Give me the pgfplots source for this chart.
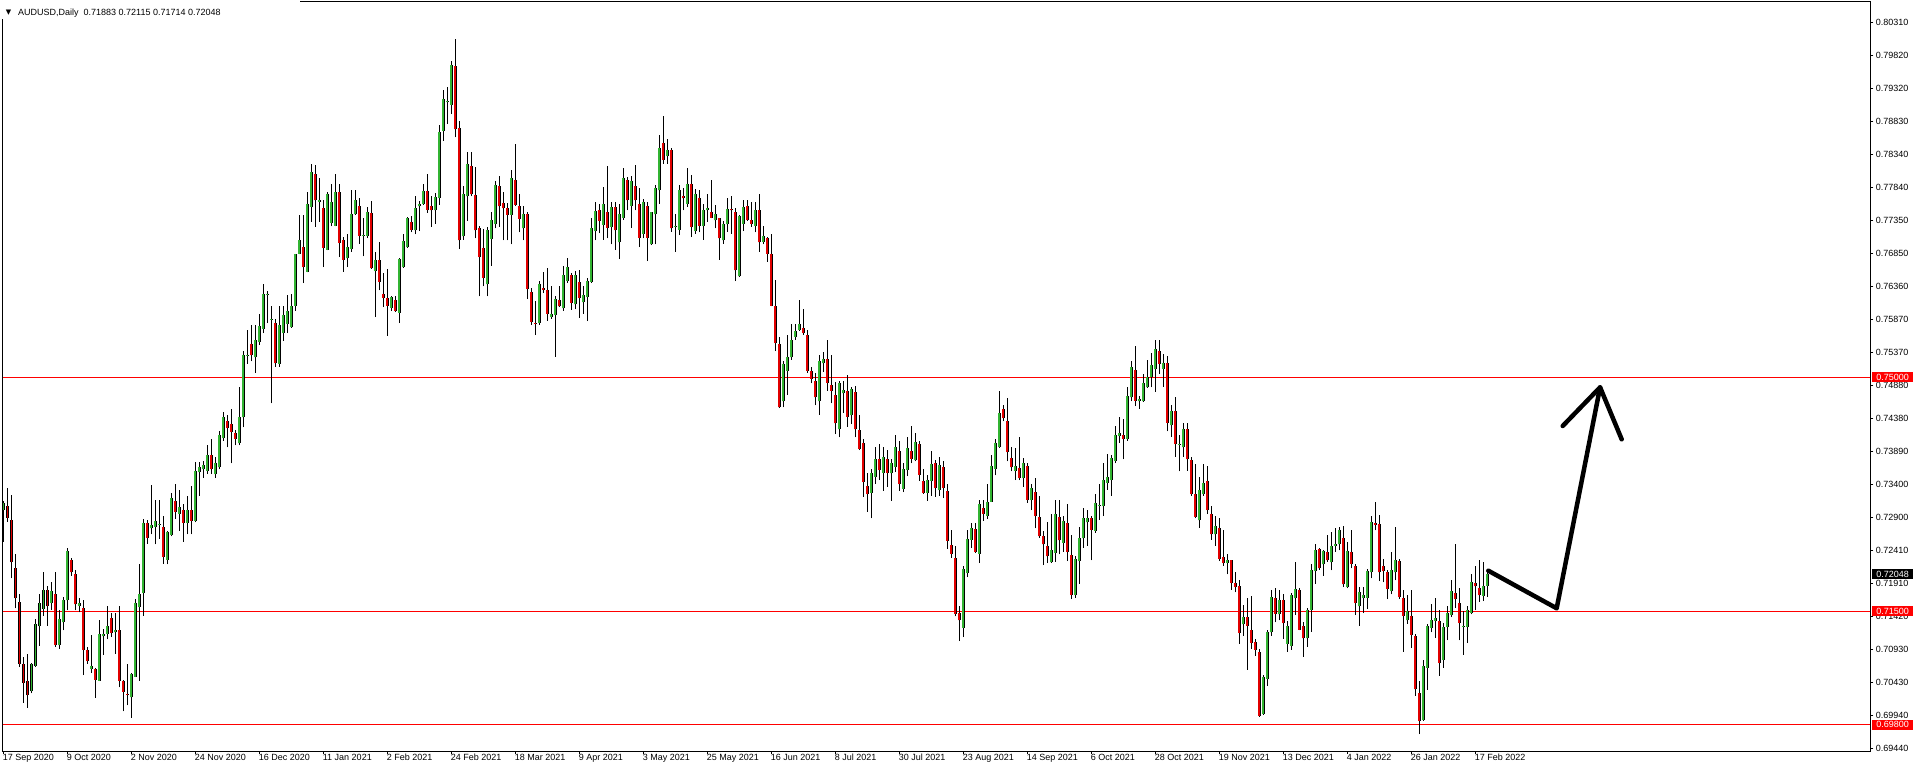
\documentclass[border=0pt]{standalone}
\usepackage{fontspec}
\setmainfont{Liberation Sans}
\newfontfamily\dejavu{DejaVu Sans}
\usepackage{pgfplots}
\usepackage{pgfplotstable}
\pgfplotsset{compat=1.18}

\definecolor{bull}{RGB}{50,180,50}
\definecolor{bear}{RGB}{225,0,0}
\definecolor{mtred}{RGB}{255,0,0}

% AUDUSD daily, bar index: 0 = 17 Sep 2020
\pgfplotstableread{
x o h l c
0 0.7302 0.7315 0.7254 0.7312
7 0.7030 0.7073 0.7027 0.7071
8 0.7068 0.7138 0.7067 0.7131
9 0.7127 0.7175 0.7098 0.7162
10 0.7153 0.7208 0.7143 0.7182
12 0.7162 0.7193 0.7152 0.7180
14 0.7099 0.7151 0.7094 0.7138
15 0.7133 0.7171 0.7121 0.7166
16 0.7166 0.7244 0.7151 0.7240
19 0.7158 0.7169 0.7148 0.7162
22 0.7063 0.7114 0.7057 0.7068
24 0.7046 0.7136 0.7045 0.7116
25 0.7112 0.7123 0.7085 0.7116
26 0.7116 0.7158 0.7108 0.7128
28 0.7118 0.7147 0.7086 0.7122
32 0.7021 0.7057 0.6990 0.7056
33 0.7052 0.7168 0.7051 0.7162
34 0.7156 0.7221 0.7046 0.7176
35 0.7177 0.7288 0.7143 0.7282
37 0.7274 0.7339 0.7265 0.7279
38 0.7276 0.7317 0.7250 0.7285
39 0.7279 0.7317 0.7258 0.7280
41 0.7227 0.7270 0.7220 0.7268
42 0.7264 0.7327 0.7262 0.7320
44 0.7296 0.7331 0.7270 0.7306
46 0.7282 0.7323 0.7265 0.7302
48 0.7285 0.7373 0.7283 0.7360
49 0.7358 0.7373 0.7323 0.7365
50 0.7362 0.7375 0.7350 0.7368
51 0.7360 0.7399 0.7355 0.7383
53 0.7355 0.7380 0.7350 0.7372
54 0.7365 0.7419 0.7362 0.7414
55 0.7409 0.7448 0.7405 0.7440
59 0.7401 0.7485 0.7398 0.7440
60 0.7440 0.7540 0.7425 0.7534
61 0.7533 0.7571 0.7520 0.7534
63 0.7530 0.7579 0.7507 0.7556
64 0.7553 0.7595 0.7548 0.7577
65 0.7573 0.7639 0.7566 0.7625
66 0.7623 0.7629 0.7581 0.7624
67 0.7587 0.7606 0.7461 0.7588
69 0.7520 0.7607 0.7516 0.7578
70 0.7566 0.7606 0.7555 0.7593
71 0.7580 0.7623 0.7566 0.7600
72 0.7575 0.7624 0.7574 0.7606
73 0.7607 0.7685 0.7600 0.7685
74 0.7685 0.7743 0.7684 0.7705
76 0.7658 0.7777 0.7657 0.7760
77 0.7755 0.7820 0.7733 0.7807
79 0.7763 0.7798 0.7733 0.7766
81 0.7691 0.7778 0.7690 0.7774
82 0.7731 0.7790 0.7726 0.7763
83 0.7727 0.7805 0.7726 0.7778
86 0.7678 0.7715 0.7665 0.7695
87 0.7692 0.7780 0.7688 0.7745
88 0.7744 0.7781 0.7743 0.7765
90 0.7712 0.7739 0.7681 0.7713
91 0.7712 0.7755 0.7708 0.7747
93 0.7659 0.7688 0.7590 0.7676
97 0.7604 0.7621 0.7600 0.7620
99 0.7597 0.7679 0.7581 0.7677
100 0.7665 0.7714 0.7664 0.7704
101 0.7695 0.7740 0.7694 0.7738
103 0.7720 0.7772 0.7714 0.7754
104 0.7756 0.7764 0.7719 0.7760
105 0.7760 0.7789 0.7758 0.7779
108 0.7750 0.7776 0.7730 0.7770
109 0.7769 0.7877 0.7758 0.7867
110 0.7869 0.7930 0.7854 0.7916
111 0.7912 0.7935 0.7879 0.7913
112 0.7908 0.7973 0.7894 0.7967
115 0.7711 0.7786 0.7706 0.7774
116 0.7771 0.7837 0.7734 0.7819
121 0.7639 0.7725 0.7621 0.7721
122 0.7707 0.7747 0.7667 0.7736
123 0.7730 0.7794 0.7723 0.7788
127 0.7743 0.7810 0.7699 0.7798
130 0.7723 0.7756 0.7705 0.7745
134 0.7581 0.7644 0.7579 0.7640
137 0.7591 0.7637 0.7588 0.7595
138 0.7593 0.7621 0.7531 0.7617
140 0.7603 0.7667 0.7600 0.7653
141 0.7644 0.7678 0.7641 0.7665
143 0.7609 0.7659 0.7602 0.7653
145 0.7612 0.7636 0.7595 0.7623
146 0.7620 0.7649 0.7584 0.7644
147 0.7643 0.7739 0.7641 0.7724
148 0.7719 0.7762 0.7705 0.7749
150 0.7728 0.7785 0.7706 0.7759
152 0.7725 0.7762 0.7699 0.7755
154 0.7702 0.7760 0.7677 0.7745
155 0.7739 0.7814 0.7736 0.7798
157 0.7757 0.7801 0.7724 0.7794
160 0.7715 0.7767 0.7708 0.7762
162 0.7699 0.7748 0.7698 0.7747
163 0.7744 0.7788 0.7699 0.7784
164 0.7780 0.7863 0.7760 0.7843
166 0.7831 0.7856 0.7820 0.7840
168 0.7725 0.7745 0.7688 0.7726
169 0.7721 0.7788 0.7713 0.7781
171 0.7760 0.7813 0.7755 0.7789
173 0.7719 0.7782 0.7715 0.7774
175 0.7727 0.7759 0.7706 0.7751
176 0.7750 0.7774 0.7733 0.7753
178 0.7735 0.7758 0.7723 0.7744
180 0.7705 0.7734 0.7700 0.7729
181 0.7729 0.7769 0.7718 0.7752
184 0.7651 0.7743 0.7650 0.7741
185 0.7730 0.7765 0.7719 0.7755
188 0.7727 0.7763 0.7717 0.7751
190 0.7703 0.7726 0.7699 0.7711
195 0.7464 0.7524 0.7455 0.7520
196 0.7510 0.7564 0.7474 0.7530
197 0.7530 0.7580 0.7526 0.7556
198 0.7561 0.7580 0.7556 0.7570
199 0.7571 0.7616 0.7570 0.7580
204 0.7464 0.7534 0.7444 0.7525
205 0.7521 0.7538 0.7508 0.7528
209 0.7422 0.7494 0.7410 0.7491
210 0.7476 0.7495 0.7447 0.7481
212 0.7443 0.7485 0.7430 0.7482
217 0.7327 0.7362 0.7289 0.7356
218 0.7351 0.7396 0.7341 0.7378
220 0.7357 0.7395 0.7330 0.7380
222 0.7356 0.7378 0.7315 0.7372
223 0.7366 0.7413 0.7358 0.7395
225 0.7333 0.7371 0.7328 0.7363
226 0.7361 0.7410 0.7352 0.7394
228 0.7376 0.7416 0.7374 0.7403
231 0.7327 0.7354 0.7315 0.7347
232 0.7345 0.7389 0.7323 0.7370
234 0.7331 0.7381 0.7323 0.7368
240 0.7125 0.7218 0.7111 0.7213
241 0.7207 0.7271 0.7201 0.7258
242 0.7257 0.7282 0.7245 0.7274
244 0.7236 0.7317 0.7222 0.7310
246 0.7293 0.7341 0.7288 0.7313
247 0.7314 0.7384 0.7313 0.7367
248 0.7363 0.7408 0.7353 0.7401
249 0.7396 0.7479 0.7394 0.7446
253 0.7360 0.7394 0.7346 0.7367
255 0.7349 0.7379 0.7336 0.7371
257 0.7316 0.7340 0.7301 0.7335
262 0.7223 0.7296 0.7222 0.7241
263 0.7237 0.7317 0.7224 0.7295
265 0.7252 0.7292 0.7239 0.7285
268 0.7174 0.7232 0.7170 0.7228
269 0.7225 0.7276 0.7191 0.7260
270 0.7259 0.7305 0.7245 0.7289
271 0.7283 0.7302 0.7248 0.7290
273 0.7270 0.7325 0.7267 0.7312
274 0.7308 0.7340 0.7287 0.7309
275 0.7307 0.7372 0.7292 0.7347
276 0.7342 0.7385 0.7332 0.7351
277 0.7346 0.7383 0.7323 0.7379
278 0.7375 0.7427 0.7371 0.7414
279 0.7412 0.7441 0.7402 0.7416
281 0.7408 0.7485 0.7405 0.7472
282 0.7470 0.7524 0.7464 0.7516
284 0.7464 0.7472 0.7453 0.7468
285 0.7464 0.7505 0.7463 0.7491
286 0.7485 0.7526 0.7484 0.7500
287 0.7500 0.7537 0.7485 0.7518
288 0.7512 0.7556 0.7478 0.7543
290 0.7513 0.7535 0.7486 0.7521
292 0.7428 0.7459 0.7411 0.7450
294 0.7399 0.7414 0.7359 0.7400
295 0.7395 0.7431 0.7381 0.7422
299 0.7286 0.7351 0.7275 0.7331
300 0.7325 0.7370 0.7323 0.7342
303 0.7265 0.7292 0.7248 0.7278
306 0.7222 0.7236 0.7205 0.7226
310 0.7130 0.7159 0.7113 0.7141
315 0.6996 0.7055 0.6995 0.7051
316 0.7049 0.7121 0.7038 0.7118
317 0.7118 0.7182 0.7113 0.7171
319 0.7145 0.7182 0.7136 0.7167
321 0.7101 0.7135 0.7089 0.7127
322 0.7098 0.7177 0.7092 0.7174
323 0.7169 0.7223 0.7144 0.7183
326 0.7109 0.7155 0.7097 0.7152
327 0.7152 0.7220 0.7119 0.7212
328 0.7210 0.7251 0.7191 0.7242
330 0.7220 0.7241 0.7203 0.7240
332 0.7223 0.7268 0.7211 0.7247
333 0.7248 0.7275 0.7239 0.7250
334 0.7250 0.7276 0.7241 0.7271
336 0.7186 0.7254 0.7184 0.7240
339 0.7157 0.7186 0.7128 0.7179
340 0.7170 0.7186 0.7147 0.7174
341 0.7170 0.7213 0.7153 0.7210
342 0.7208 0.7292 0.7199 0.7283
347 0.7180 0.7238 0.7175 0.7211
348 0.7208 0.7276 0.7196 0.7226
351 0.7136 0.7174 0.7131 0.7150
355 0.6987 0.7077 0.6986 0.7068
356 0.7065 0.7131 0.7032 0.7128
357 0.7125 0.7160 0.7118 0.7137
358 0.7135 0.7170 0.7110 0.7139
360 0.7077 0.7132 0.7065 0.7126
361 0.7126 0.7157 0.7106 0.7147
362 0.7144 0.7196 0.7141 0.7180
365 0.7127 0.7150 0.7085 0.7128
366 0.7126 0.7157 0.7102 0.7152
367 0.7147 0.7205 0.7145 0.7193
370 0.7173 0.7223 0.7165 0.7188
371 0.71883 0.72115 0.71714 0.72048
}\upcandles

\pgfplotstableread{
x o h l c
1 0.7308 0.7334 0.7284 0.7290
2 0.7287 0.7324 0.7199 0.7223
3 0.7215 0.7235 0.7154 0.7169
4 0.7164 0.7176 0.7066 0.7071
5 0.7071 0.7081 0.7013 0.7043
6 0.7046 0.7086 0.7005 0.7024
11 0.7182 0.7188 0.7128 0.7157
13 0.7176 0.7208 0.7097 0.7099
17 0.7226 0.7229 0.7203 0.7208
18 0.7206 0.7211 0.7151 0.7160
20 0.7155 0.7167 0.7054 0.7092
21 0.7092 0.7097 0.7071 0.7075
23 0.7064 0.7065 0.7020 0.7047
27 0.7140 0.7147 0.7111 0.7117
29 0.7122 0.7158 0.7036 0.7046
30 0.7046 0.7047 0.7000 0.7029
31 0.7026 0.7071 0.7009 0.7025
36 0.7282 0.7286 0.7251 0.7260
40 0.7276 0.7293 0.7221 0.7231
43 0.7315 0.7340 0.7288 0.7299
45 0.7302 0.7311 0.7254 0.7282
47 0.7301 0.7337 0.7265 0.7285
52 0.7383 0.7407 0.7355 0.7362
56 0.7435 0.7443 0.7395 0.7424
57 0.7430 0.7453 0.7371 0.7418
58 0.7416 0.7421 0.7398 0.7408
62 0.7550 0.7578 0.7524 0.7533
68 0.7582 0.7588 0.7516 0.7521
75 0.7695 0.7743 0.7641 0.7665
78 0.7805 0.7818 0.7725 0.7765
80 0.7754 0.7765 0.7665 0.7694
84 0.7778 0.7789 0.7680 0.7701
85 0.7706 0.7710 0.7658 0.7676
89 0.7757 0.7768 0.7700 0.7712
92 0.7746 0.7764 0.7662 0.7663
94 0.7675 0.7703 0.7630 0.7643
95 0.7625 0.7656 0.7605 0.7619
96 0.7618 0.7662 0.7562 0.7607
98 0.7616 0.7621 0.7598 0.7599
102 0.7732 0.7741 0.7717 0.7721
106 0.7779 0.7805 0.7746 0.7751
107 0.7757 0.7771 0.7725 0.7750
113 0.7966 0.8007 0.7859 0.7871
114 0.7873 0.7883 0.7692 0.7705
117 0.7816 0.7838 0.7771 0.7774
118 0.7773 0.7815 0.7708 0.7720
119 0.7724 0.7726 0.7621 0.7680
120 0.7694 0.7722 0.7636 0.7649
124 0.7786 0.7802 0.7725 0.7756
125 0.7761 0.7777 0.7705 0.7753
126 0.7753 0.7761 0.7705 0.7743
128 0.7796 0.7849 0.7757 0.7758
129 0.7756 0.7774 0.7717 0.7737
131 0.7745 0.7748 0.7617 0.7632
132 0.7628 0.7633 0.7578 0.7583
133 0.7582 0.7614 0.7563 0.7581
135 0.7634 0.7657 0.7626 0.7631
136 0.7630 0.7664 0.7585 0.7595
139 0.7615 0.7637 0.7605 0.7606
142 0.7653 0.7656 0.7601 0.7611
144 0.7642 0.7661 0.7589 0.7619
149 0.7751 0.7760 0.7716 0.7734
151 0.7748 0.7816 0.7708 0.7724
153 0.7755 0.7762 0.7691 0.7720
156 0.7795 0.7800 0.7750 0.7765
158 0.7787 0.7818 0.7750 0.7765
159 0.7759 0.7784 0.7695 0.7709
161 0.7757 0.7762 0.7674 0.7709
165 0.7850 0.7891 0.7820 0.7826
167 0.7841 0.7844 0.7718 0.7723
170 0.7772 0.7783 0.7750 0.7768
172 0.7790 0.7803 0.7710 0.7725
174 0.7769 0.7781 0.7717 0.7727
177 0.7748 0.7796 0.7738 0.7739
179 0.7738 0.7739 0.7676 0.7708
182 0.7752 0.7772 0.7715 0.7750
183 0.7748 0.7753 0.7644 0.7660
186 0.7757 0.7765 0.7734 0.7736
187 0.7735 0.7762 0.7725 0.7730
189 0.7750 0.7775 0.7688 0.7702
191 0.7708 0.7710 0.7673 0.7685
192 0.7684 0.7715 0.7606 0.7607
193 0.7606 0.7646 0.7539 0.7551
194 0.7550 0.7561 0.7454 0.7455
200 0.7574 0.7602 0.7564 0.7566
201 0.7564 0.7571 0.7507 0.7510
202 0.7510 0.7516 0.7491 0.7498
203 0.7494 0.7507 0.7458 0.7470
206 0.7528 0.7556 0.7480 0.7492
207 0.7489 0.7534 0.7461 0.7480
208 0.7473 0.7493 0.7415 0.7431
211 0.7480 0.7504 0.7426 0.7441
213 0.7478 0.7487 0.7410 0.7422
214 0.7421 0.7444 0.7391 0.7393
215 0.7401 0.7408 0.7321 0.7343
216 0.7337 0.7356 0.7299 0.7325
219 0.7378 0.7400 0.7346 0.7361
221 0.7378 0.7391 0.7336 0.7357
224 0.7389 0.7405 0.7330 0.7340
227 0.7389 0.7427 0.7371 0.7378
229 0.7400 0.7405 0.7345 0.7354
230 0.7345 0.7363 0.7326 0.7327
233 0.7371 0.7376 0.7321 0.7334
235 0.7365 0.7374 0.7319 0.7335
236 0.7330 0.7341 0.7243 0.7255
237 0.7249 0.7271 0.7230 0.7236
238 0.7230 0.7247 0.7142 0.7146
239 0.7147 0.7157 0.7105 0.7136
243 0.7273 0.7282 0.7237 0.7239
245 0.7305 0.7317 0.7285 0.7296
250 0.7452 0.7459 0.7434 0.7439
251 0.7435 0.7469 0.7374 0.7388
252 0.7379 0.7395 0.7359 0.7365
254 0.7364 0.7410 0.7346 0.7349
256 0.7367 0.7371 0.7312 0.7317
258 0.7329 0.7349 0.7274 0.7292
259 0.7291 0.7323 0.7260 0.7262
260 0.7262 0.7270 0.7219 0.7250
261 0.7248 0.7284 0.7222 0.7232
264 0.7291 0.7317 0.7235 0.7256
266 0.7282 0.7311 0.7225 0.7239
267 0.7234 0.7264 0.7168 0.7174
272 0.7289 0.7292 0.7226 0.7272
280 0.7413 0.7437 0.7377 0.7408
283 0.7511 0.7547 0.7457 0.7465
289 0.7539 0.7556 0.7505 0.7520
291 0.7521 0.7532 0.7419 0.7432
293 0.7450 0.7471 0.7381 0.7400
296 0.7422 0.7432 0.7360 0.7377
297 0.7376 0.7381 0.7323 0.7325
298 0.7326 0.7370 0.7289 0.7291
301 0.7345 0.7367 0.7295 0.7301
302 0.7296 0.7307 0.7257 0.7265
304 0.7274 0.7290 0.7225 0.7228
305 0.7231 0.7272 0.7218 0.7222
307 0.7226 0.7227 0.7182 0.7192
308 0.7192 0.7208 0.7178 0.7186
309 0.7187 0.7197 0.7101 0.7117
311 0.7141 0.7170 0.7062 0.7128
312 0.7122 0.7172 0.7094 0.7102
313 0.7104 0.7108 0.7083 0.7092
314 0.7089 0.7094 0.6992 0.6993
318 0.7170 0.7185 0.7133 0.7146
320 0.7167 0.7176 0.7108 0.7132
324 0.7181 0.7184 0.7121 0.7122
325 0.7128 0.7134 0.7082 0.7109
329 0.7243 0.7244 0.7212 0.7214
331 0.7238 0.7264 0.7224 0.7226
335 0.7259 0.7277 0.7186 0.7190
337 0.7238 0.7272 0.7214 0.7221
338 0.7218 0.7221 0.7144 0.7162
343 0.7282 0.7314 0.7271 0.7279
344 0.7280 0.7294 0.7195 0.7208
345 0.7217 0.7228 0.7193 0.7210
346 0.7208 0.7211 0.7168 0.7183
349 0.7225 0.7228 0.7168 0.7171
350 0.7170 0.7182 0.7089 0.7143
352 0.7143 0.7181 0.7095 0.7114
353 0.7112 0.7115 0.7023 0.7033
354 0.7027 0.7045 0.6966 0.6986
359 0.7135 0.7152 0.7053 0.7072
363 0.7177 0.7250 0.7155 0.7168
364 0.7162 0.7185 0.7106 0.7132
368 0.7192 0.7218 0.7151 0.7187
369 0.7184 0.7227 0.7164 0.7174
}\downcandles

\pgfplotsset{
  candle/.style={draw=none, mark=none, forget plot,
    error bars/y dir=plus, error bars/y explicit, error bars/error mark=none},
}

\begin{document}
\begin{tikzpicture}
\path[use as bounding box] (0,0) rectangle (1916pt,772pt);
\begin{axis}[
    at={(2.7pt,21pt)}, anchor=south west,
    scale only axis, width=1867.6pt, height=749pt,
    xmin=-0.15, xmax=466.75,
    ymin=0.694057, ymax=0.806183,
    axis line style={line width=1pt},
    tick align=outside, major tick length=3pt,
    tick style={black, line width=1pt},
    xtick pos=bottom, ytick pos=right, yticklabel pos=right,
    scaled ticks=false,
    /pgf/number format/assume math mode=true,
    every tick label/.append style={font=\fontsize{9}{10}\selectfont},
    xtick={0,16,...,368},
    xticklabels={17 Sep 2020, 9 Oct 2020, 2 Nov 2020, 24 Nov 2020, 16 Dec 2020,
      11 Jan 2021, 2 Feb 2021, 24 Feb 2021, 18 Mar 2021, 9 Apr 2021, 3 May 2021,
      25 May 2021, 16 Jun 2021, 8 Jul 2021, 30 Jul 2021, 23 Aug 2021, 14 Sep 2021,
      6 Oct 2021, 28 Oct 2021, 19 Nov 2021, 13 Dec 2021, 4 Jan 2022, 26 Jan 2022,
      17 Feb 2022},
    xticklabel style={anchor=north west, inner sep=0pt, xshift=-0.6pt},
    ytick={0.6944,0.6994,0.7043,0.7093,0.7142,0.7191,0.7241,0.7290,0.7340,0.7389,
      0.7438,0.7488,0.7537,0.7587,0.7636,0.7685,0.7735,0.7784,0.7834,0.7883,
      0.7932,0.7982,0.8031},
    yticklabels={0.69440,0.69940,0.70430,0.70930,0.71420,0.71910,0.72410,0.72900,
      0.73400,0.73890,0.74380,0.74880,0.75370,0.75870,0.76360,0.76850,0.77350,
      0.77840,0.78340,0.78830,0.79320,0.79820,0.80310},
    yticklabel style={anchor=west, inner sep=0pt, xshift=2.4pt},
  ]

  % horizontal levels
  \addplot[mtred, line width=1pt, forget plot] coordinates {(-0.15,0.75) (466.75,0.75)};
  \addplot[mtred, line width=1pt, forget plot] coordinates {(-0.15,0.715) (466.75,0.715)};
  \addplot[mtred, line width=1pt, forget plot] coordinates {(-0.15,0.698) (466.75,0.698)};

  % wicks
  \addplot[candle, error bars/error bar style={draw=black, line width=1pt}]
    table[x=x, y=l, y error plus expr=\thisrow{h}-\thisrow{l}] {\upcandles};
  \addplot[candle, error bars/error bar style={draw=black, line width=1pt}]
    table[x=x, y=l, y error plus expr=\thisrow{h}-\thisrow{l}] {\downcandles};

  % bodies: black outline, then colour
  \addplot[candle, error bars/error bar style={draw=black, line width=3pt}]
    table[x=x, y=o, y error plus expr=\thisrow{c}-\thisrow{o}] {\upcandles};
  \addplot[candle, error bars/error bar style={draw=black, line width=3pt}]
    table[x=x, y=c, y error plus expr=\thisrow{o}-\thisrow{c}] {\downcandles};
  \addplot[candle, error bars/error bar style={draw=bull, line width=1.6pt}]
    table[x=x, y=o, y error plus expr=\thisrow{c}-\thisrow{o}] {\upcandles};
  \addplot[candle, error bars/error bar style={draw=bear, line width=1.6pt}]
    table[x=x, y=c, y error plus expr=\thisrow{o}-\thisrow{c}] {\downcandles};

  % hand-drawn projection arrow
  \addplot[black, line width=4.5pt, line join=round, line cap=round, forget plot]
    coordinates {(371.25,0.72105) (388.35,0.71542) (399.2,0.7485)};
  \addplot[black, line width=4.5pt, line join=round, line cap=round, forget plot]
    coordinates {(389.85,0.74271) (399.2,0.7485) (404.6,0.74072)};

  \coordinate (p1) at (axis cs:467.2,0.75);
  \coordinate (p2) at (axis cs:467.2,0.715);
  \coordinate (p3) at (axis cs:467.2,0.698);
  \coordinate (p4) at (axis cs:467.2,0.72048);
\end{axis}

\tikzset{pricebox/.style={anchor=west, inner sep=0pt, minimum width=40.7pt,
  minimum height=10pt, text=white, font=\fontsize{9}{10}\selectfont}}
\node[pricebox, fill=mtred] at (p1) {0.75000};
\node[pricebox, fill=mtred] at (p2) {0.71500};
\node[pricebox, fill=mtred] at (p3) {0.69800};
\node[pricebox, fill=black] at (p4) {0.72048};

% chart title
\fill[white] (0,753pt) rectangle (300pt,772pt);
\node[inner sep=0pt, font=\dejavu\fontsize{7}{7}\selectfont] at (8.5pt,759.5pt) {▼};
\node[anchor=west, inner sep=0pt, font=\fontsize{9}{10}\selectfont] at (18pt,758.7pt)
  {AUDUSD,Daily\hspace{5pt}0.71883 0.72115 0.71714 0.72048};
\end{tikzpicture}
\end{document}
